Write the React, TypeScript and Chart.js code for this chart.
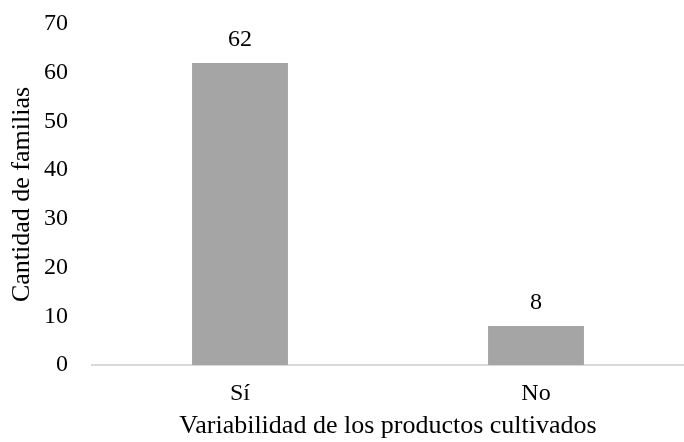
import React, { useEffect, useRef } from "react";
import { Chart, registerables } from "chart.js";

Chart.register(...registerables);

const categories = ["Sí", "No"];
const values = [62, 8];
const yTicks = [0, 10, 20, 30, 40, 50, 60, 70];
const yTitle = "Cantidad de familias";
const xTitle = "Variabilidad de los productos cultivados";

const FONT = "'Liberation Serif', 'Times New Roman', serif";

const valueLabels = {
  id: "valueLabels",
  afterDatasetsDraw(chart: any) {
    const ctx = chart.ctx;
    const meta = chart.getDatasetMeta(0);
    ctx.save();
    ctx.font = `24px ${FONT}`;
    ctx.fillStyle = "#000";
    ctx.textAlign = "center";
    ctx.textBaseline = "middle";
    meta.data.forEach((bar: any, i: number) => {
      ctx.fillText(String(values[i]), bar.x, bar.y - 23);
    });
    ctx.restore();
  },
};

export default function App() {
  const ref = useRef<HTMLCanvasElement>(null);
  useEffect(() => {
    document.body.style.margin = "0";
    const chart = new Chart(ref.current!, {
      type: "bar",
      data: {
        labels: categories,
        datasets: [
          {
            data: values,
            backgroundColor: "#a5a5a5",
            barPercentage: 1,
            categoryPercentage: 0.324,
          },
        ],
      },
      options: {
        animation: false,
        responsive: false,
        maintainAspectRatio: false,
        layout: { padding: { left: 7, right: 0, top: 24, bottom: 0 } },
        plugins: { legend: { display: false }, tooltip: { enabled: false } },
        scales: {
          x: {
            afterFit(scale: any) {
              scale.height = 77;
            },
            grid: { display: false, drawTicks: false },
            border: { display: true, color: "#d9d9d9", width: 2 },
            ticks: {
              color: "#000",
              font: { family: FONT, size: 24 },
              padding: 14,
            },
            title: {
              display: true,
              text: xTitle,
              color: "#000",
              font: { family: FONT, size: 26 },
              padding: { top: 0, bottom: 0 },
            },
          },
          y: {
            min: 0,
            max: 70,
            afterFit(scale: any) {
              scale.width = 85;
              scale.paddingTop = 0;
              scale.paddingBottom = 0;
            },
            afterBuildTicks(axis: any) {
              axis.ticks = yTicks.map((v) => ({ value: v }));
            },
            grid: { display: false, drawTicks: false },
            border: { display: false },
            ticks: {
              color: "#000",
              font: { family: FONT, size: 24 },
              padding: 24,
            },
            title: {
              display: true,
              text: yTitle,
              color: "#000",
              font: { family: FONT, size: 26 },
              padding: { top: 0, bottom: 0 },
            },
          },
        },
      },
      plugins: [valueLabels],
    });
    return () => chart.destroy();
  }, []);
  return (
    <div style={{ width: 684, height: 442 }}>
      <canvas ref={ref} width={684} height={442} style={{ display: "block" }} />
    </div>
  );
}
